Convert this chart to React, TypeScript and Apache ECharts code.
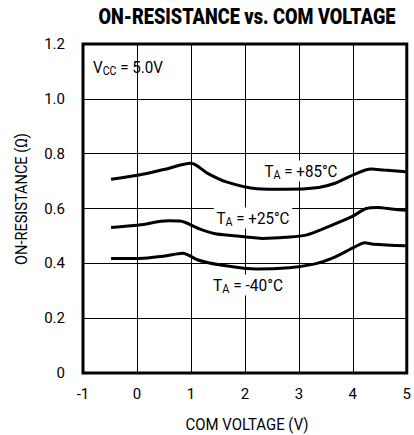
import React, { useEffect, useRef } from "react";
import * as echarts from "echarts";

const xTicks = [-1, 0, 1, 2, 3, 4, 5];
const yTicks = [0, 0.2, 0.4, 0.6, 0.8, 1.0, 1.2];

const comVoltage85 = [-0.48, 0.04, 0.52, 1.0, 1.31, 1.64, 2.22, 2.76, 3.37, 3.67, 4.0, 4.34, 4.58, 4.98];
const ron85 = [0.707, 0.722, 0.743, 0.765, 0.728, 0.698, 0.672, 0.67, 0.677, 0.692, 0.722, 0.744, 0.74, 0.734];

const comVoltage25 = [-0.48, 0.04, 0.58, 0.8, 1.13, 1.43, 1.79, 2.34, 2.76, 3.13, 3.55, 3.98, 4.25, 4.46, 4.76, 4.98];
const ron25 = [0.531, 0.54, 0.555, 0.554, 0.528, 0.509, 0.501, 0.491, 0.495, 0.503, 0.534, 0.57, 0.6, 0.604, 0.597, 0.594];

const comVoltageM40 = [-0.48, 0.04, 0.52, 0.85, 1.13, 1.55, 2.22, 2.82, 3.3, 3.61, 4.04, 4.22, 4.38, 4.98];
const ronM40 = [0.418, 0.418, 0.427, 0.437, 0.412, 0.394, 0.379, 0.384, 0.398, 0.418, 0.46, 0.475, 0.47, 0.464];

const FONT = "Roboto, 'Noto Sans', sans-serif";

const zip = (xs: number[], ys: number[]) => xs.map((x, i) => [x, ys[i]]);

let measureCtx: CanvasRenderingContext2D | null = null;
const measure = (text: string, font: string) => {
  if (!measureCtx) measureCtx = document.createElement("canvas").getContext("2d");
  if (!measureCtx) return text.length * 8;
  measureCtx.font = font;
  return measureCtx.measureText(text).width;
};

export default function App() {
  const ref = useRef<HTMLDivElement>(null);
  useEffect(() => {
    if (!ref.current) return;
    const chart = echarts.init(ref.current, undefined, { renderer: "svg" });
    const lineSeries = (data: number[][]) => ({
      type: "line",
      data,
      smooth: 0.3,
      showSymbol: false,
      symbol: "none",
      lineStyle: { color: "#000", width: 3 },
      z: 3,
    });
    const MAIN = 17;
    const SUB = 12;
    const subLabel = (main: string, sub: string, rest: string, x: number, y: number, width: number, bg: boolean) => {
      const w =
        measure(main, `${MAIN}px Roboto`) + measure(sub, `${SUB}px Roboto`) + measure(rest, `${MAIN}px Roboto`);
      const sx = width / w;
      return {
        type: "text",
        x,
        y,
        z: 1,
        scaleX: sx,
        style: {
          text: `{a|${main}}{s|${sub}}{a|${rest}}`,
          align: "center",
          verticalAlign: "middle",
          backgroundColor: bg ? "#fff" : "transparent",
          padding: [1, 3, 1, 3],
          rich: {
            a: { fontFamily: FONT, fontSize: MAIN, color: "#000", lineHeight: 19 },
            s: { fontFamily: FONT, fontSize: SUB, color: "#000", lineHeight: 19, padding: [7, 0, 0, 0] },
          },
        },
      };
    };
    const plainText = (
      text: string,
      x: number,
      y: number,
      width: number,
      size: number,
      weight: string,
      rotation = 0
    ) => {
      const w = measure(text, `${weight} ${size}px Roboto`);
      const s = width / w;
      return {
        type: "text",
        x,
        y,
        rotation,
        scaleX: s,
        style: {
          text,
          fontFamily: FONT,
          fontWeight: weight,
          fontSize: size,
          fill: "#000",
          align: "center",
          verticalAlign: "middle",
        },
      };
    };
    chart.setOption({
      animation: false,
      textStyle: { fontFamily: FONT },
      grid: {
        left: 83,
        right: 1,
        top: 44,
        bottom: 62,
        show: true,
        borderColor: "#000",
        borderWidth: 3,
        backgroundColor: "transparent",
      },
      xAxis: {
        type: "value",
        min: xTicks[0],
        max: xTicks[xTicks.length - 1],
        interval: 1,
        axisLine: { show: false },
        axisTick: { show: false },
        splitLine: { show: true, lineStyle: { color: "#000", width: 1 } },
        axisLabel: { color: "#000", fontSize: 15, fontFamily: FONT, margin: 13 },
      },
      yAxis: {
        type: "value",
        min: yTicks[0],
        max: yTicks[yTicks.length - 1],
        interval: 0.2,
        axisLine: { show: false },
        axisTick: { show: false },
        splitLine: { show: true, lineStyle: { color: "#000", width: 1 } },
        axisLabel: {
          color: "#000",
          fontSize: 15,
          fontFamily: FONT,
          margin: 18,
          formatter: (v: number) => (v === 0 ? "0" : v.toFixed(1)),
        },
      },
      series: [
        lineSeries(zip(comVoltage85, ron85)),
        lineSeries(zip(comVoltage25, ron25)),
        lineSeries(zip(comVoltageM40, ronM40)),
      ],
      graphic: [
        plainText("ON-RESISTANCE vs. COM VOLTAGE", 247, 16, 297, 22, "900"),
        plainText("COM VOLTAGE (V)", 247, 424, 123, 17, "normal"),
        plainText("ON-RESISTANCE (Ω)", 21, 199, 132, 17, "normal", Math.PI / 2),
        subLabel("V", "CC", " = 5.0V", 128, 67, 70, false),
        subLabel("T", "A", " = +85°C", 301, 171, 73, true),
        subLabel("T", "A", " = +25°C", 253, 218, 73, true),
        subLabel("T", "A", " = -40°C", 248, 285, 70, true),
      ],
    });
    return () => chart.dispose();
  }, []);
  return (
    <div
      ref={ref}
      style={{ position: "absolute", left: 0, top: 0, width: 414, height: 435 }}
    />
  );
}
